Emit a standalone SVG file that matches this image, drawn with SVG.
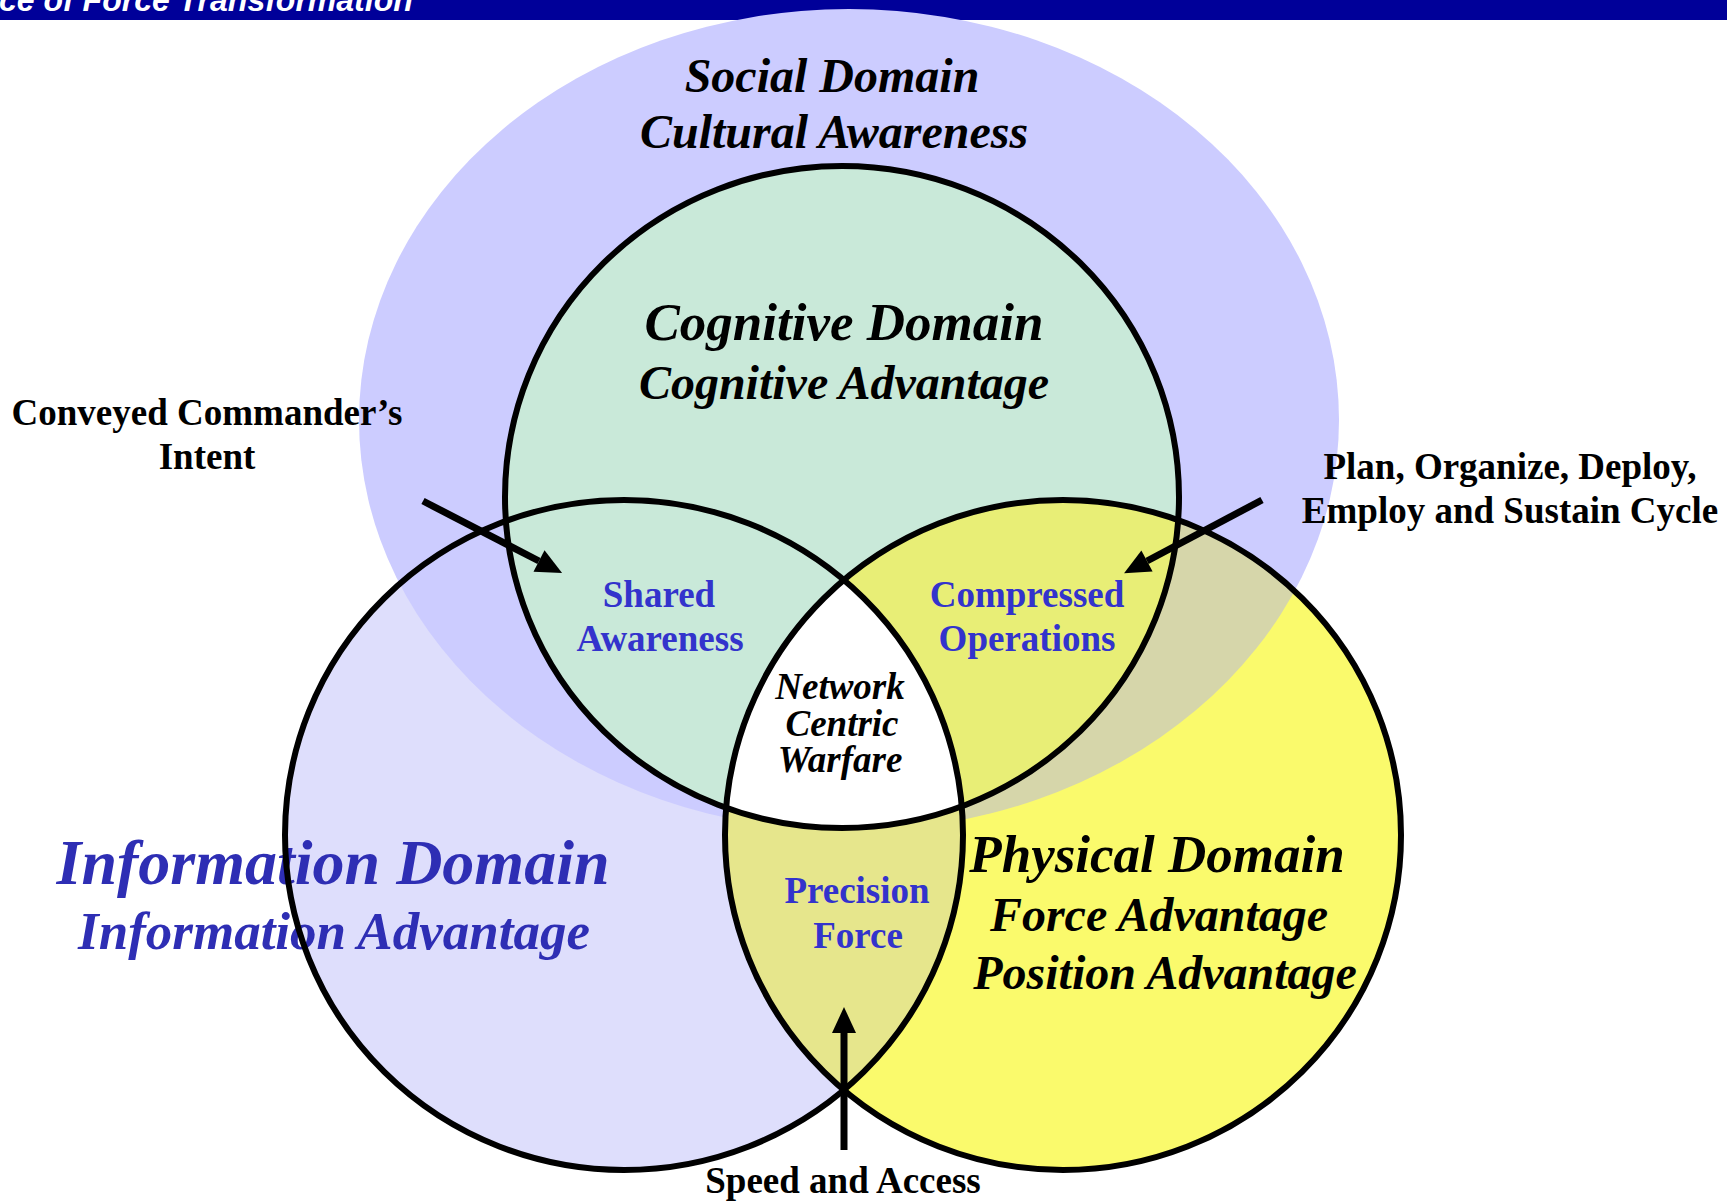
<svg xmlns="http://www.w3.org/2000/svg" width="1727" height="1202" viewBox="0 0 1727 1202">
<style>
.out{fill:none;stroke:#000;stroke-width:6}
.big{font-family:"Liberation Serif","Times New Roman",serif;font-weight:bold;font-style:italic;text-anchor:middle;fill:#000}
.blue{fill:#2e2eb4}
.lbl{font-family:"Liberation Serif","Times New Roman",serif;font-weight:bold;font-size:37px;text-anchor:middle;fill:#3333cc}
.ext{font-family:"Liberation Serif","Times New Roman",serif;font-weight:bold;font-size:37px;text-anchor:middle;fill:#000}
.conn{stroke:#000;stroke-width:7;fill:none;marker-end:url(#ah)}
</style>
<defs>
<clipPath id="cInfo"><ellipse cx="624" cy="835" rx="339" ry="335"/></clipPath>
<clipPath id="cPhys"><ellipse cx="1063" cy="835" rx="338" ry="335"/></clipPath>
<clipPath id="cCog"><ellipse cx="842" cy="497" rx="337" ry="331"/></clipPath>
<marker id="ah" markerUnits="userSpaceOnUse" markerWidth="28" markerHeight="28" refX="0" refY="12" orient="auto" overflow="visible">
<path d="M0,0 L26,12 L0,24 z" fill="#000"/>
</marker>
</defs>
<rect width="1727" height="1202" fill="#fff"/>
<g id="title">
<rect x="0" y="0" width="1727" height="20" fill="#000099"/>
<text x="-1" y="11" font-family="'Liberation Sans',Arial,sans-serif" font-weight="bold" font-style="italic" font-size="32" fill="#fff">ce of Force Transformation</text>
</g>
<g id="information">
<ellipse cx="624" cy="835" rx="339" ry="335" fill="#dedefc"/>
</g>
<g id="social">
<ellipse cx="849" cy="420" rx="490" ry="411" fill="#ccccff"/>
<text class="big" x="832" y="92" font-size="48">Social Domain</text>
<text class="big" x="834" y="148" font-size="48">Cultural Awareness</text>
</g>
<g id="physical">
<ellipse cx="1063" cy="835" rx="338" ry="335" fill="#fafa6c"/>
<ellipse cx="849" cy="420" rx="490" ry="411" fill="#d6d6aa" clip-path="url(#cPhys)"/>
</g>
<g id="precision-force">
<ellipse cx="1063" cy="835" rx="338" ry="335" fill="#e6e68c" clip-path="url(#cInfo)"/>
<text class="lbl" x="857" y="903">Precision</text>
<text class="lbl" x="858" y="948">Force</text>
</g>
<g id="cognitive">
<ellipse cx="842" cy="497" rx="337" ry="331" fill="#c9e9d9"/>
<text class="big" x="844" y="340" font-size="53">Cognitive Domain</text>
<text class="big" x="844" y="399" font-size="48">Cognitive Advantage</text>
</g>
<g id="compressed-operations">
<ellipse cx="1063" cy="835" rx="338" ry="335" fill="#e8ee76" clip-path="url(#cCog)"/>
<text class="lbl" x="1027" y="607">Compressed</text>
<text class="lbl" x="1027" y="651">Operations</text>
</g>
<g id="shared-awareness">
<text class="lbl" x="659" y="607">Shared</text>
<text class="lbl" x="660" y="651">Awareness</text>
</g>
<g id="network-centric-warfare">
<g clip-path="url(#cInfo)"><ellipse cx="1063" cy="835" rx="338" ry="335" fill="#fff" clip-path="url(#cCog)"/></g>
<text class="big" x="840" y="699" font-size="37">Network</text>
<text class="big" x="842" y="736" font-size="37">Centric</text>
<text class="big" x="840" y="772" font-size="37">Warfare</text>
</g>
<g id="labels">
<text class="big blue" x="333" y="884" font-size="64">Information Domain</text>
<text class="big blue" x="334" y="949" font-size="53">Information Advantage</text>
<text class="big" x="1157" y="872" font-size="53">Physical Domain</text>
<text class="big" x="1159" y="931" font-size="48">Force Advantage</text>
<text class="big" x="1165" y="989" font-size="48">Position Advantage</text>
</g>
<g id="outlines">
<ellipse class="out" cx="624" cy="835" rx="339" ry="335"/>
<ellipse class="out" cx="1063" cy="835" rx="338" ry="335"/>
<ellipse class="out" cx="842" cy="497" rx="337" ry="331"/>
</g>
<g id="connectors">
<line class="conn" x1="423" y1="501" x2="539" y2="561"/>
<line class="conn" x1="1262" y1="500" x2="1147" y2="561"/>
<line class="conn" x1="844" y1="1150" x2="844" y2="1033"/>
</g>
<g id="external-labels">
<text class="ext" x="207" y="425">Conveyed Commander’s</text>
<text class="ext" x="207" y="469">Intent</text>
<text class="ext" x="1510" y="479">Plan, Organize, Deploy,</text>
<text class="ext" x="1510" y="523">Employ and Sustain Cycle</text>
<text class="ext" x="843" y="1193">Speed and Access</text>
</g>
</svg>
